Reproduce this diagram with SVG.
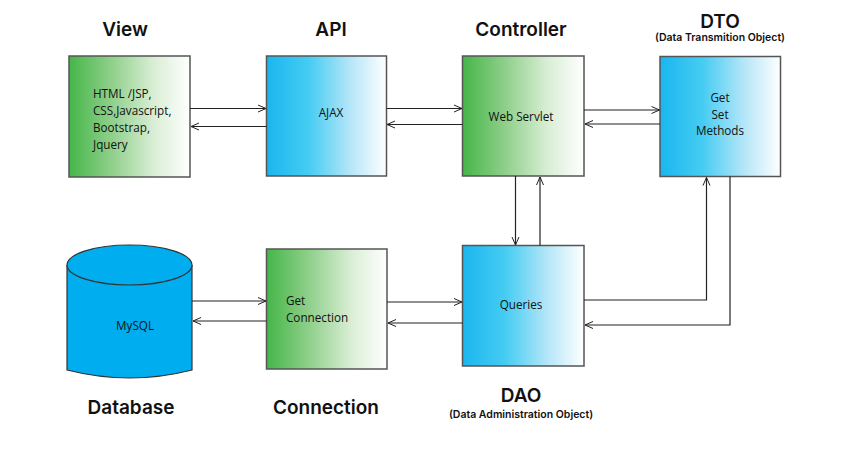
<svg xmlns="http://www.w3.org/2000/svg" width="864" height="452" viewBox="0 0 864 452">
<style>
.h{font-family:"Inter","Open Sans","Liberation Sans",sans-serif;font-weight:600;font-size:19px;fill:#111;text-anchor:middle}
.s{font-family:"Inter","Open Sans","Liberation Sans",sans-serif;font-weight:600;font-size:10.5px;fill:#111;text-anchor:middle}
.t{font-family:"Open Sans","Liberation Sans",sans-serif;font-size:11.7px;fill:#111}
.box{stroke:#555;stroke-width:1.5}
.c{fill:none;stroke:#222;stroke-width:1.2;marker-end:url(#a)}
</style>
<defs>
<linearGradient id="g" x1="0" y1="0" x2="1" y2="0">
<stop offset="0" stop-color="#45b649"/><stop offset="0.35" stop-color="#8fcf8a"/><stop offset="0.7" stop-color="#d9eed5"/><stop offset="1" stop-color="#ffffff"/>
</linearGradient>
<linearGradient id="b" x1="0" y1="0" x2="1" y2="0">
<stop offset="0" stop-color="#1ab6ef"/><stop offset="0.35" stop-color="#45ccf2"/><stop offset="0.7" stop-color="#b5e6f8"/><stop offset="1" stop-color="#ffffff"/>
</linearGradient>
<marker id="a" markerWidth="10" markerHeight="10" refX="9" refY="5" orient="auto" markerUnits="userSpaceOnUse">
<path d="M1,1.5 L9,5 L1,8.5" fill="none" stroke="#222" stroke-width="1"/>
</marker>
</defs>

<g id="view">
<rect class="box" x="69" y="56" width="121" height="121" fill="url(#g)"/>
<text class="h" x="125" y="36">View</text>
<text class="t" x="93" y="98">HTML /JSP,</text>
<text class="t" x="93" y="115">CSS,Javascript,</text>
<text class="t" x="93" y="132">Bootstrap,</text>
<text class="t" x="93" y="149">Jquery</text>
</g>
<g id="api">
<rect class="box" x="266.5" y="56" width="120" height="120" fill="url(#b)"/>
<text class="h" x="331" y="36">API</text>
<text class="t" x="331" y="117" text-anchor="middle">AJAX</text>
</g>
<g id="controller">
<rect class="box" x="462.5" y="56" width="121.5" height="120" fill="url(#g)"/>
<text class="h" x="521" y="36">Controller</text>
<text class="t" x="521" y="121" text-anchor="middle">Web Servlet</text>
</g>
<g id="dto">
<rect class="box" x="660" y="56.5" width="120.5" height="120" fill="url(#b)"/>
<text class="h" x="720" y="28">DTO</text>
<text class="s" x="720" y="41">(Data Transmition Object)</text>
<text class="t" x="720" y="102" text-anchor="middle">Get</text>
<text class="t" x="720" y="119" text-anchor="middle">Set</text>
<text class="t" x="720" y="135" text-anchor="middle">Methods</text>
</g>
<g id="database">
<path d="M67,265 L67,370 Q130,386 192,370 L192,265" fill="#00adef" stroke="#333" stroke-width="1.2"/>
<ellipse cx="129.5" cy="265" rx="62.5" ry="20" fill="#00adef" stroke="#333" stroke-width="1.2"/>
<text class="t" x="135" y="330" text-anchor="middle">MySQL</text>
<text class="h" x="131" y="414">Database</text>
</g>
<g id="connection">
<rect class="box" x="266.5" y="249" width="120.5" height="120" fill="url(#g)"/>
<text class="t" x="286" y="305">Get</text>
<text class="t" x="286" y="322">Connection</text>
<text class="h" x="326" y="414">Connection</text>
</g>
<g id="dao">
<rect class="box" x="462.5" y="245.5" width="121.5" height="120.5" fill="url(#b)"/>
<text class="t" x="521" y="309" text-anchor="middle">Queries</text>
<text class="h" x="521" y="402">DAO</text>
<text class="s" x="521" y="418">(Data Administration Object)</text>
</g>

<g id="connectors">
<path class="c" d="M190,108.5 L266,108.5"/>
<path class="c" d="M266.5,126.5 L191,126.5"/>
<path class="c" d="M386.5,108.5 L462,108.5"/>
<path class="c" d="M462.5,124.5 L387,124.5"/>
<path class="c" d="M584,110 L659.5,110"/>
<path class="c" d="M660,124 L585,124"/>
<path class="c" d="M515.5,176 L515.5,245"/>
<path class="c" d="M540,245.5 L540,177"/>
<path class="c" d="M584,300 L706.5,300 L706.5,177.5"/>
<path class="c" d="M730,176.5 L730,325 L585,325"/>
<path class="c" d="M192,301 L266,301"/>
<path class="c" d="M266.5,321 L193,321"/>
<path class="c" d="M387,302 L462,302"/>
<path class="c" d="M462.5,323 L388,323"/>
</g>
</svg>
